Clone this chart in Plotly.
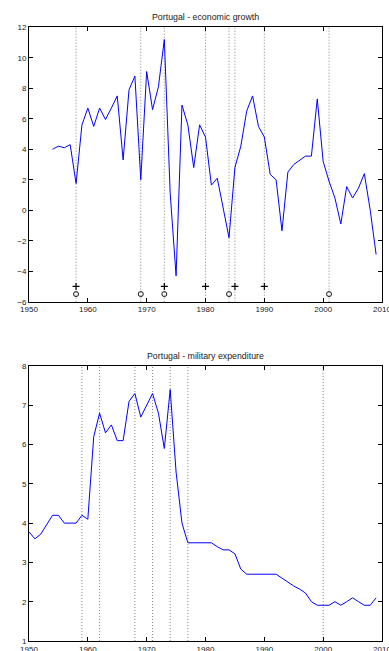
import plotly.graph_objects as go

# ---- Data ----
growth_years = list(range(1954, 2010))
growth_values = [4.0, 4.2, 4.1, 4.3, 1.75, 5.6, 6.7, 5.5, 6.7, 5.95,
                 6.7, 7.5, 3.3, 7.9, 8.8, 2.0, 9.1, 6.6, 8.1, 11.2,
                 1.1, -4.3, 6.9, 5.6, 2.8, 5.6, 4.8, 1.65, 2.1, 0.12,
                 -1.8, 2.8, 4.2, 6.5, 7.5, 5.5, 4.8, 2.35, 2.0, -1.35,
                 2.5, 3.0, 3.3, 3.55, 3.55, 7.3, 3.2, 1.9, 0.8, -0.9,
                 1.55, 0.8, 1.45, 2.4, 0.0, -2.9]
growth_vlines = [1958, 1969, 1973, 1980, 1984, 1985, 1990, 2001]
plus_years = [1958, 1973, 1980, 1985, 1990]
plus_level = -5
circle_years = [1958, 1969, 1973, 1984, 2001]
circle_level = -5.5

milex_years = list(range(1950, 2010))
milex_values = [3.78, 3.6, 3.72, 3.97, 4.2, 4.2, 4.0, 4.0, 4.0, 4.2,
                4.1, 6.2, 6.8, 6.3, 6.5, 6.1, 6.1, 7.1, 7.3, 6.7,
                7.0, 7.3, 6.8, 5.9, 7.4, 5.3, 4.0, 3.5, 3.5, 3.5,
                3.5, 3.5, 3.4, 3.32, 3.32, 3.22, 2.83, 2.7, 2.7, 2.7,
                2.7, 2.7, 2.7, 2.6, 2.49, 2.4, 2.32, 2.22, 2.0, 1.91,
                1.91, 1.91, 2.0, 1.91, 2.0, 2.1, 2.0, 1.91, 1.91, 2.1]
milex_vlines = [1959, 1962, 1968, 1971, 1974, 1977, 2000]

x_ticks = [1950, 1960, 1970, 1980, 1990, 2000, 2010]
growth_yticks = [-6, -4, -2, 0, 2, 4, 6, 8, 10, 12]
milex_yticks = [1, 2, 3, 4, 5, 6, 7, 8]

titles = ["Portugal - economic growth", "Portugal - military expenditure"]

# ---- Figure ----
W, H = 389, 651
fig = go.Figure()

font = dict(family="Liberation Sans, Arial, sans-serif", size=8, color="#222")
title_font = dict(family="Liberation Sans, Arial, sans-serif", size=8.8, color="#222")

fig.add_trace(go.Scatter(x=growth_years, y=growth_values, mode="lines",
                         line=dict(color="#0000ff", width=1), xaxis="x", yaxis="y",
                         showlegend=False, hoverinfo="skip"))
fig.add_trace(go.Scatter(x=plus_years, y=[plus_level] * len(plus_years), mode="markers",
                         marker=dict(symbol="cross-thin", size=5, line=dict(color="black", width=1.2)),
                         xaxis="x", yaxis="y", showlegend=False, hoverinfo="skip"))
fig.add_trace(go.Scatter(x=circle_years, y=[circle_level] * len(circle_years), mode="markers",
                         marker=dict(symbol="circle-open", size=5, color="black", line=dict(width=0.9)),
                         xaxis="x", yaxis="y", showlegend=False, hoverinfo="skip"))
fig.add_trace(go.Scatter(x=milex_years, y=milex_values, mode="lines",
                         line=dict(color="#0000ff", width=1), xaxis="x2", yaxis="y2",
                         showlegend=False, hoverinfo="skip"))

dot_line = dict(color="#666", width=0.8, dash="1px,2px")
shapes = []
for v in growth_vlines:
    shapes.append(dict(type="line", xref="x", yref="y domain", x0=v, x1=v, y0=0, y1=1,
                       line=dot_line, layer="below"))
for v in milex_vlines:
    shapes.append(dict(type="line", xref="x2", yref="y2 domain", x0=v, x1=v, y0=0, y1=1,
                       line=dot_line, layer="below"))

# Pixel layout
ml, mr = 29.3, 389 - 382.3
top_y0, top_y1 = 27.3, 301.7
bot_y0, bot_y1 = 366.0, 641.0

def dom(ytop, ybot):
    return [1 - ybot / H, 1 - ytop / H]

axis_common = dict(showgrid=False, zeroline=False, showline=True, linecolor="black",
                   linewidth=1, mirror="ticks", ticks="inside", ticklen=4, tickcolor="black",
                   tickfont=font, automargin=False, ticklabeloverflow="allow")

fig.update_layout(
    width=W, height=H,
    margin=dict(l=ml, r=mr, t=0, b=0),
    paper_bgcolor="white", plot_bgcolor="white",
    xaxis=dict(domain=[0, 1], range=[1950, 2010], tickvals=x_ticks, anchor="y", **axis_common),
    yaxis=dict(domain=dom(top_y0, top_y1), range=[-6, 12], tickvals=growth_yticks, anchor="x", **axis_common),
    xaxis2=dict(domain=[0, 1], range=[1950, 2010], tickvals=x_ticks, anchor="y2", **axis_common),
    yaxis2=dict(domain=dom(bot_y0, bot_y1), range=[1, 8], tickvals=milex_yticks, anchor="x2", **axis_common),
    shapes=shapes,
    annotations=[
        dict(text=titles[0], xref="paper", yref="paper", x=0.5, y=1 - 17 / H,
             showarrow=False, font=title_font, xanchor="center", yanchor="middle"),
        dict(text=titles[1], xref="paper", yref="paper", x=0.5, y=1 - 356 / H,
             showarrow=False, font=title_font, xanchor="center", yanchor="middle"),
    ],
)

fig.write_html("out.html", config={"displayModeBar": False},
               post_script="document.body.style.margin='0';document.body.style.overflow='hidden';")
